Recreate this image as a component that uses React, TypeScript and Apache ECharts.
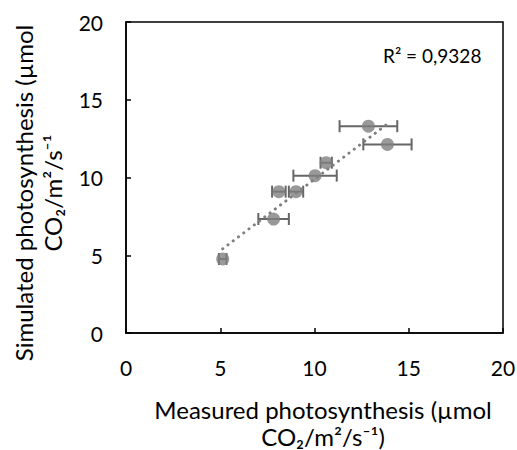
import React, { useEffect, useRef } from "react";
import * as echarts from "echarts";

const measured = [12.86, 13.87, 10.62, 10.03, 8.11, 9.02, 7.83, 5.13];
const simulated = [13.3, 12.13, 10.95, 10.12, 9.09, 9.09, 7.33, 4.76];
const measuredErr = [1.53, 1.28, 0.3, 1.15, 0.36, 0.38, 0.81, 0.2];
const xTicks = [0, 5, 10, 15, 20];
const yTicks = [0, 5, 10, 15, 20];
const r2Label = "R² = 0,9328";
const xTitle = "Measured photosynthesis (µmol\nCO₂/m²/s⁻¹)";
const yTitle = "Simulated photosynthesis (µmol\nCO₂/m²/s⁻¹";

const FONT = "Lato";

function regression(xs: number[], ys: number[]) {
  const n = xs.length;
  const mx = xs.reduce((a, b) => a + b, 0) / n;
  const my = ys.reduce((a, b) => a + b, 0) / n;
  let sxy = 0;
  let sxx = 0;
  for (let i = 0; i < n; i++) {
    sxy += (xs[i] - mx) * (ys[i] - my);
    sxx += (xs[i] - mx) * (xs[i] - mx);
  }
  const slope = sxy / sxx;
  return { slope, intercept: my - slope * mx };
}

export default function App() {
  const ref = useRef<HTMLDivElement>(null);
  useEffect(() => {
    if (!ref.current) return;
    const chart = echarts.init(ref.current, undefined, { renderer: "svg" });
    const { slope, intercept } = regression(measured, simulated);
    const xmin = Math.min(...measured);
    const xmax = Math.max(...measured);
    const trend = [
      [xmin, intercept + slope * xmin],
      [xmax, intercept + slope * xmax],
    ];
    const points = measured.map((x, i) => [x, simulated[i]]);
    const errData = measured.map((x, i) => [x, simulated[i], measuredErr[i]]);
    const gray = "#7f7f7f";
    const errColor = "#666666";
    const cap = 6;

    chart.setOption({
      animation: false,
      textStyle: { fontFamily: FONT },
      grid: {
        left: 126,
        right: 14,
        top: 22,
        bottom: 117,
        show: true,
        borderColor: "#000",
        borderWidth: 1.5,
        backgroundColor: "transparent",
        outerBoundsMode: "none",
      },
      xAxis: {
        type: "value",
        min: xTicks[0],
        max: xTicks[xTicks.length - 1],
        interval: 5,
        axisLine: { show: true, lineStyle: { color: "#000", width: 1.5 } },
        axisTick: { show: true, inside: true, length: 5, lineStyle: { color: "#000", width: 1.5 } },
        splitLine: { show: false },
        axisLabel: { color: "#000", fontSize: 21, fontFamily: FONT, margin: 24 },
      },
      yAxis: {
        type: "value",
        min: yTicks[0],
        max: yTicks[yTicks.length - 1],
        interval: 5,
        axisLine: { show: true, lineStyle: { color: "#000", width: 1.5 } },
        axisTick: { show: true, inside: true, length: 5, lineStyle: { color: "#000", width: 1.5 } },
        splitLine: { show: false },
        axisLabel: { color: "#000", fontSize: 21, fontFamily: FONT, margin: 23 },
      },
      graphic: [
        {
          type: "text",
          x: 38,
          y: 193,
          rotation: Math.PI / 2,
          style: {
            text: yTitle,
            fontSize: 24,
            fontFamily: FONT,
            fill: "#000",
            align: "center",
            verticalAlign: "middle",
            lineHeight: 29,
          },
        },
        {
          type: "text",
          x: 323,
          y: 423,
          style: {
            text: xTitle,
            fontSize: 24,
            fontFamily: FONT,
            fill: "#000",
            align: "center",
            verticalAlign: "middle",
            lineHeight: 27,
          },
        },
        {
          type: "text",
          x: 383,
          y: 55,
          style: {
            text: r2Label,
            fontSize: 19,
            fontFamily: FONT,
            fill: "#000",
            align: "left",
            verticalAlign: "middle",
          },
        },
      ],
      series: [
        {
          type: "custom",
          data: errData,
          encode: { x: 0, y: 1 },
          z: 1,
          renderItem: (params: any, api: any) => {
            const x = api.value(0);
            const y = api.value(1);
            const e = api.value(2);
            const p1 = api.coord([x - e, y]);
            const p2 = api.coord([x + e, y]);
            const style = { stroke: errColor, lineWidth: 2 };
            return {
              type: "group",
              children: [
                { type: "line", shape: { x1: p1[0], y1: p1[1], x2: p2[0], y2: p2[1] }, style },
                { type: "line", shape: { x1: p1[0], y1: p1[1] - cap, x2: p1[0], y2: p1[1] + cap }, style },
                { type: "line", shape: { x1: p2[0], y1: p2[1] - cap, x2: p2[0], y2: p2[1] + cap }, style },
              ],
            };
          },
        },
        {
          type: "scatter",
          data: points,
          symbol: "circle",
          symbolSize: 13,
          z: 2,
          itemStyle: { color: gray },
        },
        {
          type: "line",
          data: trend,
          symbol: "none",
          z: 3,
          lineStyle: { color: gray, width: 3, type: [0.1, 6.5], cap: "round" },
        },
      ],
    });
    return () => chart.dispose();
  }, []);
  return (
    <div
      ref={ref}
      style={{ position: "fixed", left: 0, top: 0, width: 517, height: 450, background: "#fff" }}
    />
  );
}
